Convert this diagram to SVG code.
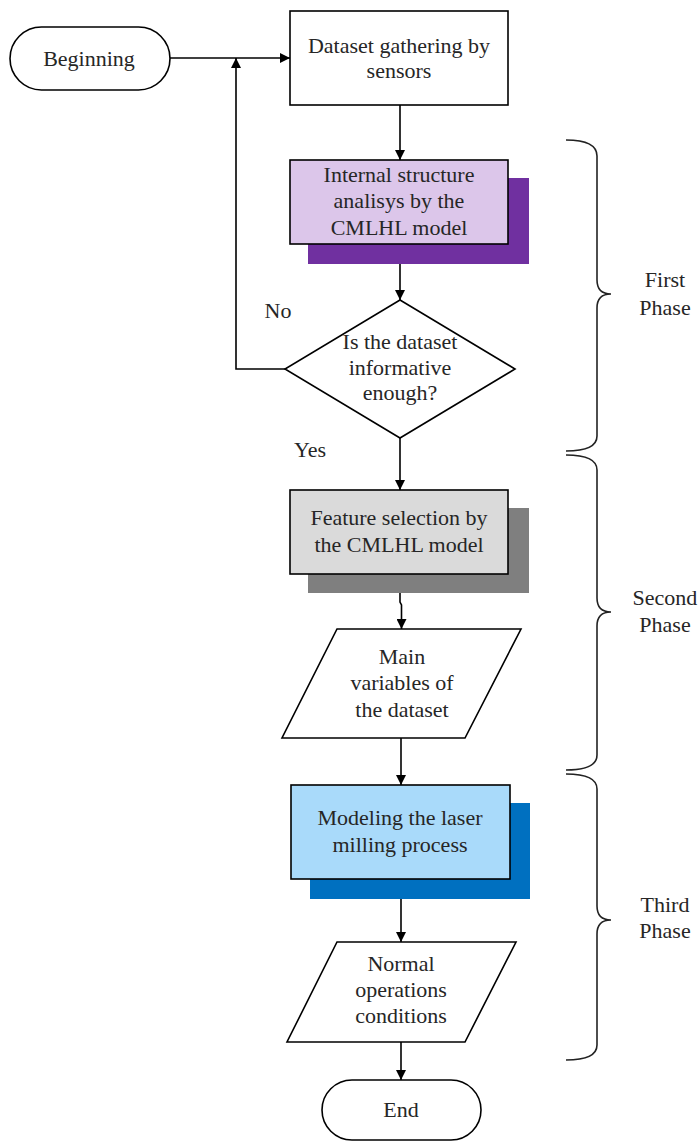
<svg xmlns="http://www.w3.org/2000/svg" width="699" height="1141" viewBox="0 0 699 1141">
<defs>
<style>
text{font-family:"Liberation Serif","Times New Roman",serif;font-size:22px;fill:#262626;text-anchor:middle}
.sh{stroke:none}
.bx{stroke:#000;stroke-width:1.6}
.ln{fill:none;stroke:#000;stroke-width:1.6}
.br{fill:none;stroke:#222;stroke-width:1.6}
</style>
<marker id="ah" viewBox="0 0 10 10" refX="10" refY="5" markerWidth="10" markerHeight="10" markerUnits="userSpaceOnUse" orient="auto">
<path d="M0,0 L10,5 L0,10 Z" fill="#000"/>
</marker>
</defs>
<rect width="699" height="1141" fill="#fff"/>
<g id="connectors">
<line class="ln" x1="170" y1="58" x2="290" y2="58" marker-end="url(#ah)"/>
<polyline class="ln" points="285,369 236,369 236,58" marker-end="url(#ah)"/>
<line class="ln" x1="400" y1="105" x2="400" y2="160" marker-end="url(#ah)"/>
<line class="ln" x1="400" y1="244" x2="400" y2="300" marker-end="url(#ah)"/>
<line class="ln" x1="400" y1="438" x2="400" y2="490" marker-end="url(#ah)"/>
<polyline class="ln" points="400,574 400,602 401.5,605 401.5,629" marker-end="url(#ah)"/>
<line class="ln" x1="401" y1="738" x2="401" y2="785" marker-end="url(#ah)"/>
<line class="ln" x1="401" y1="879" x2="401" y2="942" marker-end="url(#ah)"/>
<line class="ln" x1="401" y1="1042" x2="401" y2="1080" marker-end="url(#ah)"/>
<text x="278" y="318">No</text>
<text x="310" y="457">Yes</text>
</g>
<g id="beginning">
<rect class="bx" x="10" y="27" width="160" height="63" rx="31.5" fill="#fff"/>
<text x="89" y="66">Beginning</text>
</g>
<g id="dataset">
<rect class="bx" x="290" y="11" width="218" height="94" fill="#fff"/>
<text x="399" y="53">Dataset gathering by</text>
<text x="399" y="78">sensors</text>
</g>
<g id="internal">
<rect class="sh" x="308" y="178" width="221" height="86" fill="#7030a0"/>
<rect class="bx" x="290" y="160" width="218" height="84" fill="#dcc6ea"/>
<text x="399" y="182">Internal structure</text>
<text x="399" y="208">analisys by the</text>
<text x="399" y="235">CMLHL model</text>
</g>
<g id="decision">
<polygon class="bx" points="400,300 515,369 400,438 285,369" fill="#fff"/>
<text x="400" y="349">Is the dataset</text>
<text x="400" y="375">informative</text>
<text x="400" y="400">enough?</text>
</g>
<g id="feature">
<rect class="sh" x="308" y="508" width="221" height="85" fill="#7f7f7f"/>
<rect class="bx" x="290" y="490" width="218" height="84" fill="#dadada"/>
<text x="399" y="525">Feature selection by</text>
<text x="399" y="552">the CMLHL model</text>
</g>
<g id="mainvars">
<polygon class="bx" points="337,629 521,629 465,738 282,738" fill="#fff"/>
<text x="402" y="664">Main</text>
<text x="402" y="690">variables of</text>
<text x="402" y="717">the dataset</text>
</g>
<g id="modeling">
<rect class="sh" x="310" y="803" width="220" height="96" fill="#0070c0"/>
<rect class="bx" x="291" y="785" width="219" height="94" fill="#a9dafa"/>
<text x="400" y="825">Modeling the laser</text>
<text x="400" y="852">milling process</text>
</g>
<g id="normal">
<polygon class="bx" points="337,942 516,942 465,1042 287,1042" fill="#fff"/>
<text x="401" y="971">Normal</text>
<text x="401" y="997">operations</text>
<text x="401" y="1023">conditions</text>
</g>
<g id="end">
<rect class="bx" x="322" y="1080" width="159" height="60" rx="30" fill="#fff"/>
<text x="401" y="1117">End</text>
</g>
<g id="phase1">
<path class="br" d="M566,140 Q597,140 597,156 L597,280 Q597,294 611,294 Q597,294 597,308 L597,436 Q597,451 566,451"/>
<text x="665" y="287">First</text>
<text x="665" y="315">Phase</text>
</g>
<g id="phase2">
<path class="br" d="M566,455 Q597,455 597,470 L597,598 Q597,612 611,612 Q597,612 597,626 L597,755 Q597,770 566,770"/>
<text x="665" y="605">Second</text>
<text x="665" y="632">Phase</text>
</g>
<g id="phase3">
<path class="br" d="M566,774 Q597,774 597,789 L597,906 Q597,920 611,920 Q597,920 597,934 L597,1045 Q597,1060 566,1060"/>
<text x="665" y="912">Third</text>
<text x="665" y="938">Phase</text>
</g>
</svg>
